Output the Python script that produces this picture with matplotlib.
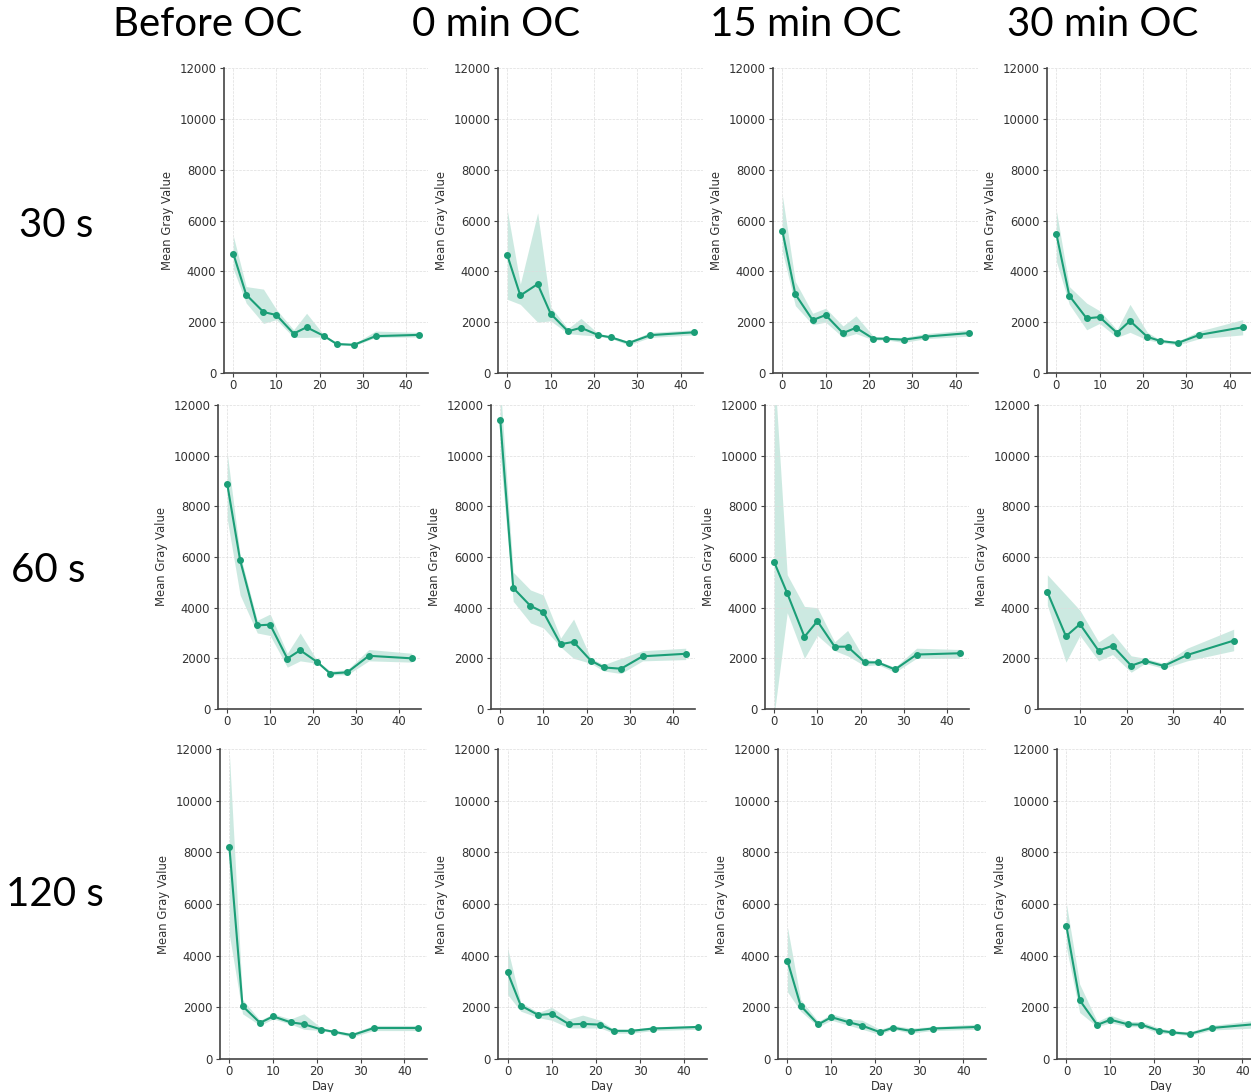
import numpy as np
import matplotlib.pyplot as plt

days = [0, 3, 7, 10, 14, 17, 21, 24, 28, 33, 43]
col_titles = ['Before OC', '0 min OC', '15 min OC', '30 min OC']
row_titles = ['30 s', '60 s', '120 s']

nan = np.nan

# 30 s exposure, one list per column (Before OC, 0, 15, 30 min OC)
mean_30s = [[4700, 3080, 2400, 2280, 1550, 1800, 1460, 1140, 1110, 1450, 1500],
            [4630, 3050, 3500, 2330, 1640, 1780, 1490, 1400, 1180, 1490, 1600],
            [5600, 3100, 2080, 2280, 1570, 1780, 1350, 1350, 1310, 1430, 1570],
            [5480, 3040, 2150, 2200, 1580, 2050, 1420, 1260, 1180, 1500, 1800]]
lo_30s = [[4100, 2750, 1950, 2100, 1400, 1400, 1420, 1100, 1070, 1400, 1420],
          [2900, 2700, 2000, 2050, 1550, 1500, 1450, 1350, 1100, 1400, 1500],
          [4800, 2650, 1900, 2000, 1400, 1550, 1300, 1300, 1200, 1350, 1450],
          [4400, 2700, 1700, 1950, 1400, 1600, 1300, 1200, 1100, 1350, 1500]]
hi_30s = [[5400, 3400, 3300, 2500, 1700, 2350, 1500, 1180, 1150, 1650, 1600],
          [6400, 3500, 6300, 2600, 1750, 2150, 1550, 1450, 1250, 1600, 1700],
          [7000, 3600, 2350, 2550, 1850, 2250, 1450, 1400, 1400, 1550, 1700],
          [6400, 3400, 2750, 2450, 1700, 2700, 1600, 1300, 1250, 1650, 2100]]

# 60 s exposure
mean_60s = [[8880, 5880, 3300, 3330, 1990, 2320, 1850, 1400, 1450, 2100, 2000],
            [11400, 4780, 4070, 3820, 2560, 2650, 1910, 1640, 1590, 2080, 2180],
            [5790, 4570, 2850, 3470, 2460, 2460, 1840, 1840, 1560, 2150, 2200],
            [nan, 4620, 2870, 3350, 2300, 2500, 1710, 1900, 1700, 2130, 2700]]
lo_60s = [[7500, 4500, 3000, 2900, 1650, 1900, 1800, 1350, 1350, 1900, 1850],
          [10000, 4250, 3400, 3200, 2450, 2000, 1800, 1500, 1400, 1900, 1950],
          [-200, 3800, 2000, 2900, 2300, 2100, 1700, 1750, 1450, 2000, 2000],
          [nan, 4100, 1850, 2900, 1900, 2150, 1450, 1800, 1600, 1900, 2300]]
hi_60s = [[10100, 6100, 3500, 3750, 2200, 3000, 1900, 1500, 1550, 2350, 2200],
          [12800, 5400, 4700, 4500, 2800, 3550, 2000, 1750, 2000, 2300, 2400],
          [13500, 5300, 4050, 4000, 2650, 3100, 1950, 1900, 1650, 2400, 2350],
          [nan, 5300, 4500, 3900, 2650, 3000, 2100, 2000, 1800, 2400, 3150]]

# 120 s exposure
mean_120s = [[8200, 2050, 1400, 1650, 1420, 1350, 1140, 1050, 920, 1200, 1200],
             [3360, 2070, 1700, 1750, 1340, 1360, 1330, 1090, 1090, 1180, 1240],
             [3800, 2060, 1340, 1620, 1420, 1290, 1040, 1210, 1090, 1180, 1240],
             [5130, 2280, 1320, 1520, 1340, 1330, 1100, 1030, 970, 1200, 1350]]
lo_120s = [[4800, 1750, 1300, 1550, 1350, 1150, 1100, 1000, 850, 1100, 1100],
           [2500, 1850, 1600, 1500, 1200, 1200, 1200, 1000, 1000, 1100, 1150],
           [2600, 1850, 1250, 1500, 1300, 1150, 950, 1150, 1000, 1100, 1150],
           [4300, 1800, 1250, 1400, 1250, 1250, 1000, 980, 900, 1120, 1200]]
hi_120s = [[11800, 2300, 1500, 1750, 1550, 1750, 1200, 1100, 1000, 1300, 1300],
           [4300, 2200, 1800, 2000, 1550, 1700, 1500, 1150, 1150, 1250, 1300],
           [5100, 2300, 1450, 1750, 1550, 1500, 1150, 1300, 1200, 1250, 1350],
           [6000, 2900, 1450, 1700, 1450, 1450, 1200, 1100, 1050, 1300, 1500]]

means = [mean_30s, mean_60s, mean_120s]
lows = [lo_30s, lo_60s, lo_120s]
highs = [hi_30s, hi_60s, hi_120s]

# panel boxes in pixels: left, top, right, bottom (panels were pasted, not aligned)
W, H = 1251, 1092
boxes = [[(224, 68, 428, 373), (498, 68, 703, 373), (773, 68, 978, 373), (1047, 68, 1252, 373)],
         [(218, 405, 421, 709), (491, 405, 695, 709), (765, 405, 969, 709), (1038, 405, 1243, 709)],
         [(220, 749, 427, 1059), (498, 749, 707, 1059), (778, 749, 986, 1059), (1057, 749, 1265, 1059)]]

color = '#1b9e77'
tick_color = '#333333'

fig = plt.figure(figsize=(W / 100, H / 100), dpi=100)

for r in range(3):
    for c in range(4):
        l, t, rr, b = boxes[r][c]
        ax = fig.add_axes([l / W, 1 - b / H, (rr - l) / W, (b - t) / H])
        x = np.array(days, dtype=float)
        y = np.array(means[r][c], dtype=float)
        lo = np.array(lows[r][c], dtype=float)
        hi = np.array(highs[r][c], dtype=float)
        ok = ~np.isnan(y)
        ax.fill_between(x[ok], lo[ok], hi[ok], color=color, alpha=0.22, lw=0)
        ax.plot(x[ok], y[ok], color=color, lw=1.5, marker='o', ms=4)
        ax.set_ylim(0, 12000)
        ax.set_yticks(range(0, 12001, 2000))
        ax.set_xticks([t_ for t_ in range(0, 41, 10) if t_ >= x[ok].min() - 2])
        ax.grid(True, ls='--', lw=0.5, color='#dddddd')
        for s in ['top', 'right']:
            ax.spines[s].set_visible(False)
        for s in ['left', 'bottom']:
            ax.spines[s].set_color('#444444')
            ax.spines[s].set_linewidth(1.2)
        ax.tick_params(labelsize=8.4, colors='#444444', labelcolor=tick_color, length=3, width=0.8, pad=2.5)
        ax.tick_params(axis='x', pad=1.5)
        ax.set_ylabel('Mean Gray Value', fontsize=8.4, color=tick_color)
        if r == 2:
            ax.set_xlabel('Day', fontsize=8.4, color=tick_color)
            ax.xaxis.set_label_coords(0.5, -0.067)

title_x = [208, 496, 806, 1103]
for c in range(4):
    fig.text(title_x[c] / W, 1 - 24 / H, col_titles[c], fontsize=29, family=['Lato', 'DejaVu Sans'],
             ha='center', va='center')

row_pos = [(56, 226), (48, 571), (55, 895)]
for r in range(3):
    fig.text(row_pos[r][0] / W, 1 - row_pos[r][1] / H, row_titles[r], fontsize=29,
             family=['Lato', 'DejaVu Sans'], ha='center', va='center')

fig.savefig('out.png', dpi=100)
